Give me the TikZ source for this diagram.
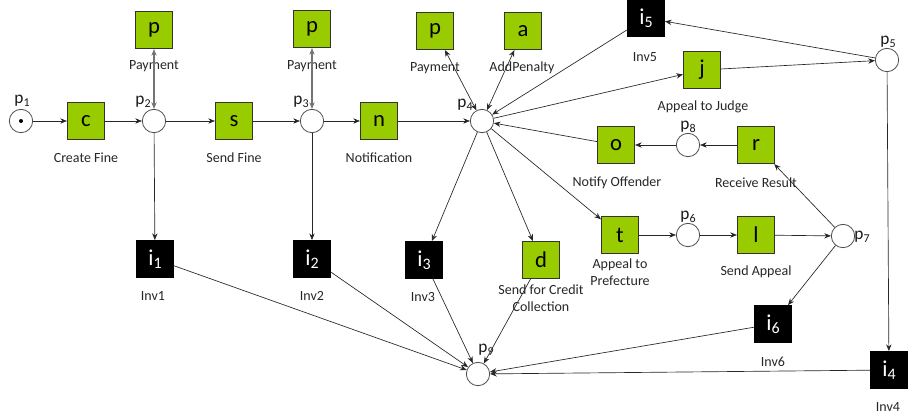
\documentclass[tikz,border=0pt]{standalone}
\usepackage{fontspec}
\setmainfont{Carlito}
\usetikzlibrary{arrows.meta}
\definecolor{tgreen}{HTML}{99CC00}
\newcommand\psub[1]{\raisebox{-0.35ex}{\fontsize{9}{9}\selectfont #1}}
\newcommand\isub[1]{\raisebox{-0.3ex}{\fontsize{12}{12}\selectfont #1}}
\begin{document}
\begin{tikzpicture}[x=0.75pt,y=-0.75pt,
 place/.style={circle,draw=black!70,fill=white,minimum size=17.5pt,inner sep=0pt,line width=0.6pt},
 trans/.style={rectangle,draw=black!80,fill=tgreen,minimum size=28pt,inner sep=0pt,font=\fontsize{17}{17}\selectfont,line width=0.6pt},
 inv/.style={rectangle,draw=black,fill=black,text=white,minimum size=28pt,inner sep=0pt,font=\fontsize{17}{17}\selectfont},
 lbl/.style={font=\fontsize{10.5}{12.5}\selectfont,text=black!85,align=center,inner sep=0pt},
 plbl/.style={font=\fontsize{13}{13}\selectfont,text=black!90,inner sep=0pt},
 arc/.style={-{Stealth[length=5pt,width=4pt]},line width=0.5pt,draw=black!85},
 darc/.style={{Stealth[length=5pt,width=4pt]}-{Stealth[length=5pt,width=4pt]},line width=0.8pt,draw=black!55}
]
\useasboundingbox (0,0) rectangle (908,419);

% places
\node[place] (p1) at (21,121) {};
\node[circle,fill=black,inner sep=0pt,minimum size=3pt] (tok) at (21,121) {};
\node[place] (p2) at (154,121) {};
\node[place] (p3) at (312,121) {};
\node[place] (p4) at (482,121) {};
\node[place] (p5) at (887,60) {};
\node[place] (p6) at (688,235) {};
\node[place] (p7) at (843,236) {};
\node[place] (p8) at (688,145) {};
\node[place] (p9) at (478,374) {};

\node[plbl] (lp1) at (22,101) {p\psub{1}};
\node[plbl] (lp2) at (143,102) {p\psub{2}};
\node[plbl] (lp3) at (301,102) {p\psub{3}};
\node[plbl] (lp4) at (465,105) {p\psub{4}};
\node[plbl] (lp5) at (888,42) {p\psub{5}};
\node[plbl] (lp6) at (688,217) {p\psub{6}};
\node[plbl] (lp7) at (862,237) {p\psub{7}};
\node[plbl] (lp8) at (688,127) {p\psub{8}};
\node[plbl] (lp9) at (486,350) {p\psub{9}};

% transitions
\node[trans] (c) at (86,121) {c};
\node[trans] (s) at (234,121) {s};
\node[trans] (n) at (379,121) {n};
\node[trans] (pa) at (154,30) {p};
\node[trans] (pb) at (312,29) {p};
\node[trans] (pc) at (435,31) {p};
\node[trans] (a) at (523,31) {a};
\node[trans] (j) at (702,70) {j};
\node[trans] (o) at (616,145) {o};
\node[trans] (r) at (756,145) {r};
\node[trans] (t) at (620,235) {t};
\node[trans] (l) at (756,235) {l};
\node[trans] (d) at (541,260) {d};

\node[inv] (i1) at (155,259) {i\isub{1}};
\node[inv] (i2) at (312,259) {i\isub{2}};
\node[inv] (i3) at (424,260) {i\isub{3}};
\node[inv] (i4) at (889,370) {i\isub{4}};
\node[inv] (i5) at (646,18) {i\isub{5}};
\node[inv] (i6) at (773,324) {i\isub{6}};

% labels
\node[lbl] (lc) at (86,158) {Create Fine};
\node[lbl] (ls) at (234,158) {Send Fine};
\node[lbl] (ln) at (379,158) {Notification};
\node[lbl] (lpa) at (154,66) {Payment};
\node[lbl] (lpb) at (312,66) {Payment};
\node[lbl] (lpc) at (435,68) {Payment};
\node[lbl] (la) at (522,68) {AddPenalty};
\node[lbl] (li5) at (645,57) {Inv5};
\node[lbl] (lj) at (703,107) {Appeal to Judge};
\node[lbl] (lo) at (617,183) {Notify Offender};
\node[lbl] (lr) at (756,183) {Receive Result};
\node[lbl] (lt) at (620,272) {Appeal to\\Prefecture};
\node[lbl] (ll) at (756,272) {Send Appeal};
\node[lbl] (ld) at (541,298) {Send for Credit\\Collection};
\node[lbl] (li1) at (153,296) {Inv1};
\node[lbl] (li2) at (312,296) {Inv2};
\node[lbl] (li3) at (423,297) {Inv3};
\node[lbl] (li6) at (773,362) {Inv6};
\node[lbl] (li4) at (888,407) {Inv4};

% arcs
\draw[arc] (p1) -- (c);
\draw[arc] (c) -- (p2);
\draw[arc] (p2) -- (s);
\draw[arc] (s) -- (p3);
\draw[arc] (p3) -- (n);
\draw[arc] (n) -- (p4);
\draw[darc] (p2) -- (pa);
\draw[darc] (p3) -- (pb);
\draw[darc,line width=0.5pt,draw=black!85] (p4) -- (pc);
\draw[darc,line width=0.5pt,draw=black!85] (p4) -- (a);
\draw[arc] (p2) -- (i1);
\draw[arc] (p3) -- (i2);
\draw[arc] (p4) -- (i3);
\draw[arc] (p4) -- (d);
\draw[arc] (p4) -- (t);
\draw[arc] (i5) -- (p4);
\draw[arc] (p4) -- (j);
\draw[arc] (j) -- (p5);
\draw[arc] (p5) -- (i5);
\draw[arc] (p5) -- (i4);
\draw[arc] (o) -- (p4);
\draw[arc] (p8) -- (o);
\draw[arc] (r) -- (p8);
\draw[arc] (t) -- (p6);
\draw[arc] (p6) -- (l);
\draw[arc] (l) -- (p7);
\draw[arc] (p7) -- (r);
\draw[arc] (p7) -- (i6);
\draw[arc] (i1) -- (p9);
\draw[arc] (i2) -- (p9);
\draw[arc] (i3) -- (p9);
\draw[arc] (d) -- (p9);
\draw[arc] (i6) -- (p9);
\draw[arc] (i4) -- (p9);
\end{tikzpicture}
\end{document}
